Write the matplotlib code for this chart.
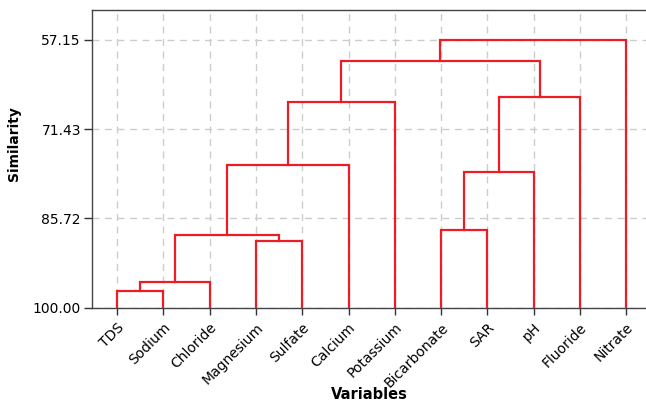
import matplotlib
matplotlib.use('Agg')
import matplotlib.pyplot as plt
import matplotlib.transforms as mtransforms

variables = ['TDS', 'Sodium', 'Chloride', 'Magnesium', 'Sulfate', 'Calcium',
             'Potassium', 'Bicarbonate', 'SAR', 'pH', 'Fluoride', 'Nitrate']

# linkage steps: ids >= 12 refer to clusters built in earlier steps
pairs = [(0, 1), (12, 2), (3, 4), (13, 14), (15, 5), (16, 6),
         (7, 8), (18, 9), (19, 10), (17, 20), (21, 11)]
similarity = [97.28, 95.89, 89.32, 88.31, 77.11, 67.12,
              87.61, 78.28, 66.22, 60.51, 57.15]

yticks = [57.15, 71.43, 85.72, 100.00]

red = '#ee1c25'

fig = plt.figure(figsize=(6.46, 4.05), dpi=100)
ax = fig.add_axes([92 / 646, 1 - 307.7 / 405, 554 / 646, 297.7 / 405])

n = len(variables)
xpos = {i: float(i) for i in range(n)}
height = {i: 100.0 for i in range(n)}
for k, ((a, b), s) in enumerate(zip(pairs, similarity)):
    ax.plot([xpos[a], xpos[a], xpos[b], xpos[b]],
            [height[a], s, s, height[b]],
            color=red, lw=1.6, solid_joinstyle='miter', zorder=3)
    xpos[n + k] = (xpos[a] + xpos[b]) / 2
    height[n + k] = s

ax.set_xlim(-0.54, 11.425)
ax.set_ylim(100, 52.35)

ax.set_xticks(range(n))
ax.set_xticklabels(variables, rotation=45, ha='right', va='top',
                   rotation_mode='anchor', fontsize=10)
# nudge the slanted names so they end just under their tick
shift = mtransforms.ScaledTranslation(-12 / 100, 2 / 100, fig.dpi_scale_trans)
for lbl in ax.get_xticklabels():
    lbl.set_transform(lbl.get_transform() + shift)

ax.set_yticks(yticks)
ax.set_yticklabels([f'{v:.2f}' for v in yticks], fontsize=10)
ax.tick_params(axis='y', length=6, width=1, color='#333333', pad=2)
ax.tick_params(axis='x', length=5, width=1, color='#333333', pad=4)

ax.grid(True, color='#cccccc', linestyle=(0, (5, 4)), lw=1, zorder=0)
ax.set_axisbelow(True)

for side in ['left', 'top', 'bottom']:
    ax.spines[side].set_color('#444444')
    ax.spines[side].set_linewidth(1)
ax.spines['right'].set_visible(False)

ax.set_ylabel('Similarity', fontsize=10, fontweight='bold', va='center')
ax.yaxis.set_label_coords(-0.141, 0.55)
ax.set_xlabel('Variables', fontsize=10.5, fontweight='bold', va='center')
ax.xaxis.set_label_coords(0.5, -0.29)

fig.savefig('out.png', dpi=100)
